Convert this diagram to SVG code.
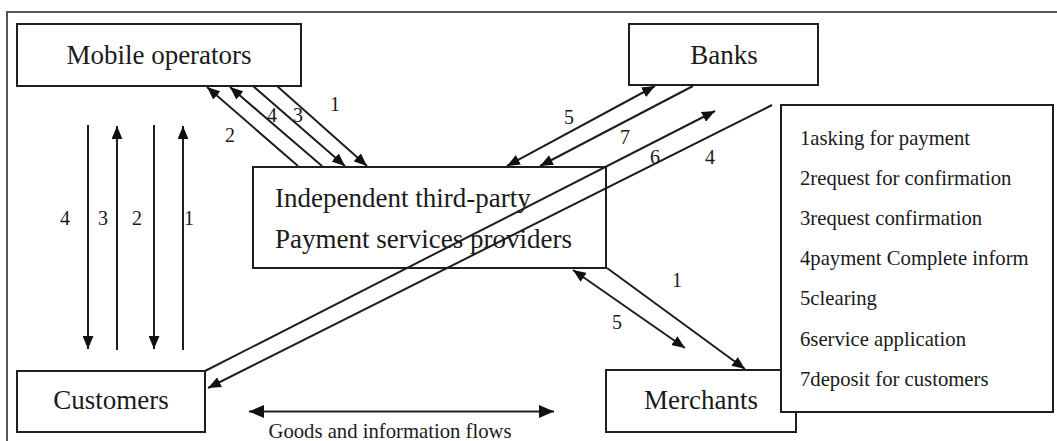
<svg xmlns="http://www.w3.org/2000/svg" width="1057" height="441" viewBox="0 0 1057 441">
<style>
.box{fill:#fff;stroke:#1e1e1e;stroke-width:2}
.node{font-family:"Liberation Serif","Times New Roman",serif;font-size:27px;fill:#1a1a1a;text-anchor:middle}
.leg{font-family:"Liberation Serif","Times New Roman",serif;font-size:20.7px;fill:#1a1a1a}
.num{font-family:"Liberation Serif","Times New Roman",serif;font-size:20px;fill:#1a1a1a;text-anchor:middle}
.ln{stroke:#1e1e1e;stroke-width:2;fill:none}
.one{marker-end:url(#ah)}
.two{marker-start:url(#ah);marker-end:url(#ah)}
</style>
<defs>
<marker id="ah" viewBox="0 0 12 10" refX="12" refY="5" markerWidth="13" markerHeight="11" orient="auto-start-reverse" markerUnits="userSpaceOnUse"><path d="M0,0 L12,5 L0,10 z" fill="#111"/></marker>
<marker id="ahb" viewBox="0 0 14 12" refX="14" refY="6" markerWidth="15" markerHeight="13" orient="auto-start-reverse" markerUnits="userSpaceOnUse"><path d="M0,0 L14,6 L0,12 z" fill="#111"/></marker>
</defs>
<rect width="1057" height="441" fill="#fff"/>
<g id="frame"><path d="M7,441 V12 H1057" fill="none" stroke="#555" stroke-width="2"/></g>

<g id="mobile"><rect class="box" x="17" y="24" width="284" height="62"/><text class="node" x="159" y="64">Mobile operators</text></g>
<g id="banks"><rect class="box" x="629" y="24" width="189" height="61"/><text class="node" x="724" y="64">Banks</text></g>
<g id="provider"><rect class="box" x="253" y="167" width="353" height="101"/><text class="node" x="275" y="207" style="text-anchor:start">Independent third-party</text><text class="node" x="275" y="248" style="text-anchor:start">Payment services providers</text></g>
<g id="customers"><rect class="box" x="17" y="371" width="188" height="61"/><text class="node" x="111" y="409">Customers</text></g>
<g id="merchants"><rect class="box" x="606" y="370" width="190" height="62"/><text class="node" x="701" y="409">Merchants</text></g>

<g id="connectors">
<line class="ln one" x1="88" y1="125" x2="88" y2="349"/>
<line class="ln one" x1="117" y1="350" x2="117" y2="126"/>
<line class="ln one" x1="154" y1="125" x2="154" y2="349"/>
<line class="ln one" x1="183" y1="350" x2="183" y2="126"/>
<line class="ln one" x1="298" y1="166" x2="207" y2="87"/>
<line class="ln one" x1="322" y1="166" x2="230" y2="87"/>
<line class="ln one" x1="253" y1="86" x2="345" y2="166"/>
<line class="ln one" x1="277" y1="86" x2="367" y2="166"/>
<line class="ln two" x1="507" y1="166" x2="655" y2="86"/>
<line class="ln one" x1="693" y1="86" x2="540" y2="166"/>
<line class="ln one" x1="205" y1="371" x2="715" y2="111"/>
<line class="ln one" x1="772" y1="105" x2="208" y2="388"/>
<line class="ln two" x1="573" y1="270" x2="685" y2="348"/>
<line class="ln one" x1="607" y1="268" x2="745" y2="369"/>
<line class="ln" x1="249" y1="411.5" x2="554" y2="411.5" marker-start="url(#ahb)" marker-end="url(#ahb)"/>
</g>

<g id="labels">
<text class="num" x="65" y="225">4</text>
<text class="num" x="103" y="225">3</text>
<text class="num" x="137" y="225">2</text>
<text class="num" x="189" y="225">1</text>
<text class="num" x="335" y="111">1</text>
<text class="num" x="272" y="122">4</text>
<text class="num" x="298" y="122">3</text>
<text class="num" x="230" y="142">2</text>
<text class="num" x="569" y="124">5</text>
<text class="num" x="625" y="144">7</text>
<text class="num" x="655" y="164">6</text>
<text class="num" x="710" y="164">4</text>
<text class="num" x="677" y="287">1</text>
<text class="num" x="617" y="329">5</text>
<text class="leg" x="390" y="438" style="text-anchor:middle">Goods and information flows</text>
</g>

<g id="legend">
<rect class="box" x="781" y="105" width="272" height="307"/>
<text class="leg" x="800" y="144.5">1asking for payment</text>
<text class="leg" x="800" y="184.5">2request for confirmation</text>
<text class="leg" x="800" y="224.5">3request confirmation</text>
<text class="leg" x="800" y="265">4payment Complete inform</text>
<text class="leg" x="800" y="305">5clearing</text>
<text class="leg" x="800" y="345.5">6service application</text>
<text class="leg" x="800" y="386">7deposit for customers</text>
</g>
</svg>
